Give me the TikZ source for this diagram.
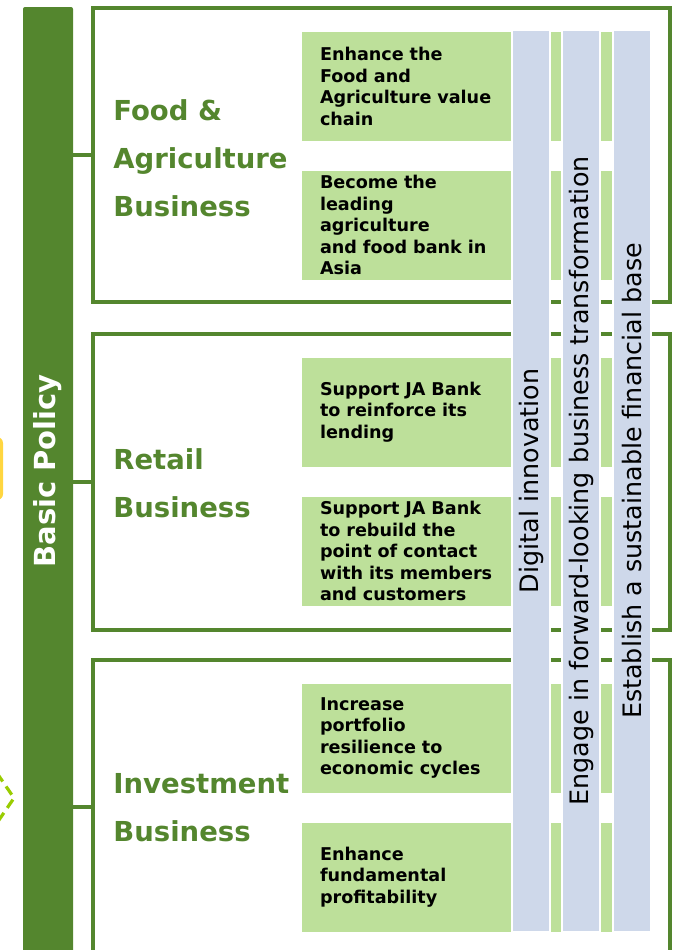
\documentclass[tikz,border=0pt]{standalone}
\usepackage{fontspec}
\setmainfont{DejaVu Sans}
\definecolor{jagreen}{RGB}{84,134,46}
\definecolor{jalight}{RGB}{189,224,154}
\definecolor{jablue}{RGB}{206,216,234}
\definecolor{jayellow}{RGB}{255,214,64}
\definecolor{jalime}{RGB}{153,204,0}
\usetikzlibrary{positioning}

\begin{document}
\begin{tikzpicture}[x=0.5pt, y=-0.5pt,
  frame/.style={draw=jagreen, line width=2pt, minimum width=288.5pt, inner sep=0pt},
  policybar/.style={fill=jagreen, rounded corners=1pt, minimum width=25pt, minimum height=476.5pt, inner sep=0pt},
  policytext/.style={text=white, font=\fontsize{14.5}{17}\selectfont\bfseries, rotate=90, inner sep=0pt},
  title/.style={text=jagreen, font=\fontsize{13.75}{24}\selectfont\bfseries, align=left, anchor=west, inner sep=0pt},
  goal/.style={fill=jalight, minimum width=155pt, minimum height=54.5pt, text width=137pt, inner xsep=9pt, inner ysep=0pt, align=left, font=\fontsize{8.8}{10.75}\selectfont\bfseries},
  pillar/.style={fill=jablue, draw=white, line width=0.8pt, rotate=90, minimum width=451pt, minimum height=19pt, inner sep=0pt, font=\fontsize{12.7}{15}\selectfont},
  link/.style={draw=jagreen, line width=2pt}
]
  \useasboundingbox (0,0) rectangle (676,950);

  \fill[jayellow, rounded corners=3pt] (-40,437) rectangle (3,500);
  \draw[jalime, line width=1.6pt, dash pattern=on 5pt off 3pt] (-12,760) -- (14,798) -- (-12,836);

  \node[policybar] (policy) at (48,483.5) {};
  \node[policytext] (policylabel) at (48,471) {Basic Policy};

  \node[frame, minimum height=147pt] (food) at (381.5,155) {};
  \node[frame, minimum height=148pt] (retail) at (381.5,482) {};
  \node[frame, minimum height=147pt] (invest) at (381.5,807) {};

  \draw[link] (policy.east |- food.west) -- (food.west);
  \draw[link] (policy.east |- retail.west) -- (retail.west);
  \draw[link] (policy.east |- invest.west) -- (invest.west);

  \node[title] (foodtitle) at (113,158) {Food \&\\Agriculture\\Business};
  \node[title] (retailtitle) at (113,483) {Retail\\Business};
  \node[title] (investtitle) at (113,808) {Investment\\Business};

  \node[goal] (goal1) at (457,86.5) {Enhance the\\Food and\\Agriculture value\\chain};
  \node[goal] (goal2) at (457,225) {Become the\\leading\\agriculture\\and food bank in\\Asia};
  \node[goal] (goal3) at (457,412) {Support JA Bank\\to reinforce its\\lending};
  \node[goal] (goal4) at (457,551) {Support JA Bank\\to rebuild the\\point of contact\\with its members\\and customers};
  \node[goal] (goal5) at (457,738) {Increase\\portfolio\\resilience to\\economic cycles};
  \node[goal] (goal6) at (457,877) {Enhance\\fundamental\\profitability};

  \node[pillar] (digital) at (531,481) {Digital innovation};
  \node[pillar] (transform) at (581,481) {Engage in forward-looking business transformation};
  \node[pillar] (finance) at (632,481) {Establish a sustainable financial base};
\end{tikzpicture}
\end{document}
